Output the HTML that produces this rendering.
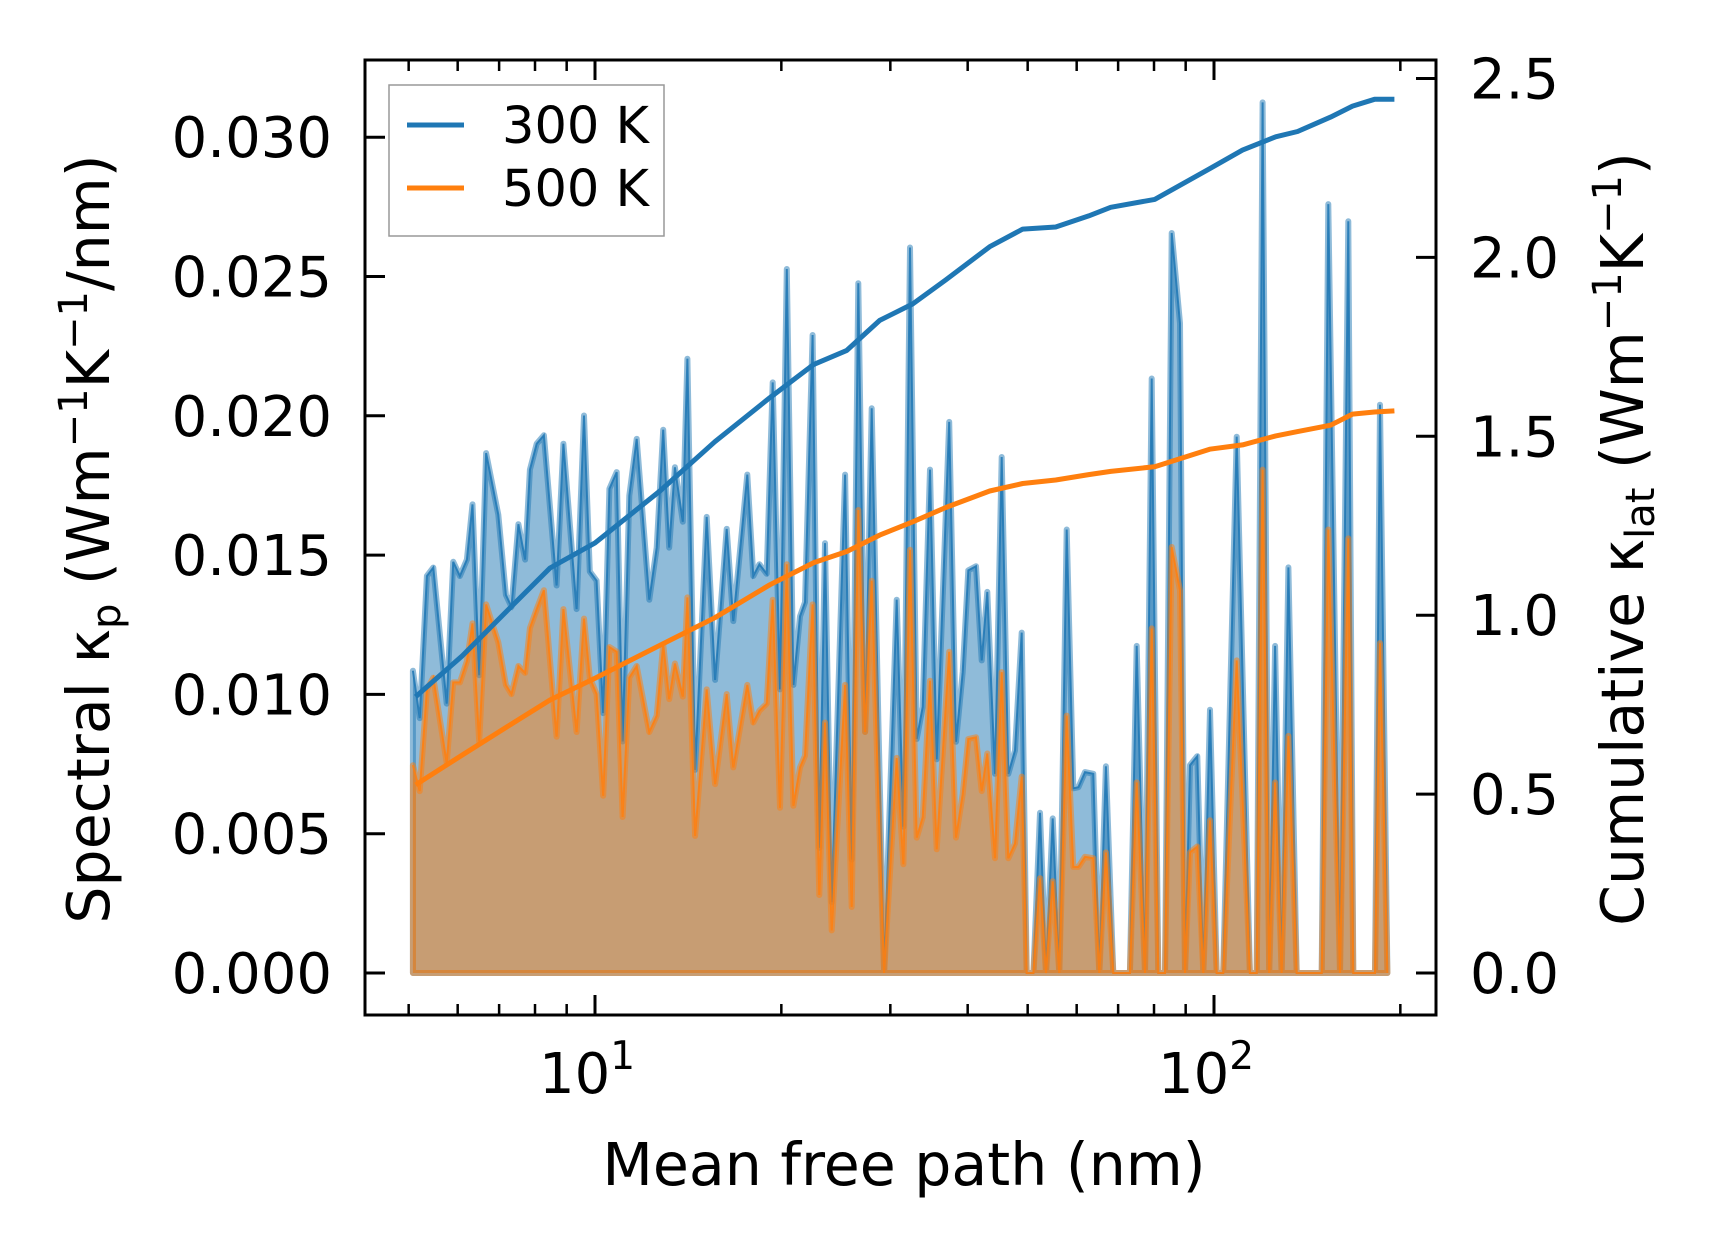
<!DOCTYPE html>
<html><head><meta charset="utf-8"><style>
html,body{margin:0;padding:0;background:#fff;}
svg{display:block;font-family:"DejaVu Sans","Liberation Sans",sans-serif;}
</style></head><body>
<svg id="chart" width="1716" height="1254" viewBox="0 0 1716 1254" xmlns="http://www.w3.org/2000/svg">
<defs><clipPath id="plotclip"><rect x="365" y="60" width="1071" height="955"/></clipPath></defs>
<g id="plot" clip-path="url(#plotclip)"></g>
<g id="axes"></g>
<g>
<rect x="389" y="85" width="275" height="151" fill="#fff" fill-opacity="0.8" stroke="#999" stroke-width="1.5"/>
<line x1="407" y1="125" x2="464" y2="125" stroke="#1f77b4" stroke-width="5"/>
<text x="502" y="143" font-size="51">300 K</text>
<line x1="407" y1="188" x2="464" y2="188" stroke="#ff7f0e" stroke-width="5"/>
<text x="502" y="206" font-size="51">500 K</text>
</g>
<text x="904" y="1185" font-size="58.5" text-anchor="middle">Mean free path (nm)</text>
<text transform="translate(109,539) rotate(-90)" font-size="58.5" text-anchor="middle">Spectral κ<tspan font-size="40" dy="11">p</tspan><tspan dy="-11"> (Wm</tspan><tspan font-size="40" dy="-22">−1</tspan><tspan dy="22">K</tspan><tspan font-size="40" dy="-22">−1</tspan><tspan dy="22">/nm)</tspan></text>
<text transform="translate(1643,539) rotate(-90)" font-size="58.5" text-anchor="middle">Cumulative κ<tspan font-size="40" dy="11">lat</tspan><tspan dy="-11"> (Wm</tspan><tspan font-size="40" dy="-22">−1</tspan><tspan dy="22">K</tspan><tspan font-size="40" dy="-22">−1</tspan><tspan dy="22">)</tspan></text>
</svg>
<script>
const mfp = [5.08,5.21,5.35,5.48,5.76,5.90,6.05,6.21,6.34,6.50,6.67,6.98,7.18,7.33,7.52,7.71,7.85,8.05,8.27,8.67,8.89,9.34,9.60,9.81,10.06,10.31,10.55,10.84,11.08,11.36,11.68,12.24,12.58,12.89,13.18,13.46,13.86,14.10,14.51,15.15,15.63,16.32,16.73,17.62,18.02,18.43,18.94,19.37,19.90,20.41,20.92,21.44,21.84,22.47,23.03,23.53,24.12,25.35,25.98,26.63,27.31,27.99,28.70,29.31,30.72,31.49,
32.28,33.09,33.84,34.77,35.65,37.35,38.30,39.26,40.09,41.26,42.14,43.03,44.28,45.40,46.53,47.70,48.90,49.82,51.07,52.35,53.53,54.88,56.25,57.81,59.26,60.38,61.89,63.83,65.26,66.90,68.77,73.15,75.00,77.36,79.31,81.30,83.34,85.43,88.13,89.79,91.47,93.99,96.11,98.52,101.0,103.5,108.8,114.3,117.2,119.8,122.8,125.5,128.6,131.9,136.0,146.6,149.3,153.0,159.8,164.8,167.9,178.6,182.0,185.4,190.6];
const k300 = [.01085,.00915,.01425,.01455,.00967,.01476,.01425,.01484,.01682,.01069,.01866,.01645,.01357,.01314,.01611,.01484,.01806,.0190,.0193,.01391,.0190,.01306,.02001,.01441,.01408,.00933,.01738,.01798,.00831,.01713,.01917,.0134,.01527,.0195,.01527,.01815,.0162,.02205,.00729,.01637,.01052,.01594,.01263,.01789,.01425,.01467,.01433,.0212,.01018,.02527,.01034,.0128,.01331,.0229,.00449,.01543,.00254,.01789,.00407,.02476,.00865,.02027,.00899,0,.0134,.00525,
.02604,.0084,.00955,.01807,.00767,.01978,.0083,.0108,.01445,.0146,.01122,.01368,.00715,.01852,.00715,.00799,.01222,0,0,.00575,0,.00555,0,.01592,.00663,.00667,.00721,.00715,0,.00742,0,0,.01174,0,.02134,0,0,.02656,.02332,0,.00746,.00778,0,.00945,0,0,.01925,0,0,.03125,0,.01174,0,.01456,0,0,0,.0276,0,.02698,0,0,0,.0204,0];
const k500 = [.00746,.00653,.01018,.0106,.00754,.01043,.01043,.01119,.01255,.00831,.01323,.01187,.01034,.01001,.01102,.01077,.01238,.01306,.01374,.00848,.01306,.00865,.01272,.0106,.01001,.00636,.0117,.01153,.0056,.0106,.01102,.00865,.00924,.01179,.00983,.01111,.00992,.01348,.00492,.01018,.00678,.01001,.00738,.01034,.00899,.00941,.00967,.0134,.00593,.01467,.006,.00738,.0078,.01323,.0028,.00899,.00153,.01034,.00237,.01662,.00865,.01408,.00631,0,.00772,.0039,
.01519,.00486,.00559,.01049,.00444,.01153,.00486,.00642,.0084,.00846,.00653,.00788,.00412,.0108,.00412,.00465,.00705,0,0,.0034,0,.00329,0,.00924,.00381,.00381,.00417,.00412,0,.00433,0,0,.00684,0,.01237,0,0,.01529,.01373,0,.00433,.00454,0,.00548,0,0,.01122,0,0,.01807,0,.00684,0,.00851,0,0,0,.01592,0,.0156,0,0,0,.01184,0];
const cumX = [5.13,6.10,7.18,8.46,10,12.73,15.62,19.16,22.57,25.51,28.84,32.61,36.87,43.42,49.09,55.5,62.74,68.1,80.2,98.4,111.2,125.8,136.5,154.3,167.4,181.7,195.6];
const cum300 = [0.772,0.886,1.009,1.132,1.202,1.347,1.485,1.608,1.701,1.740,1.824,1.870,1.937,2.030,2.079,2.085,2.116,2.140,2.162,2.248,2.300,2.337,2.352,2.392,2.423,2.442,2.442];
const cum500 = [0.526,0.609,0.686,0.763,0.824,0.916,0.993,1.085,1.147,1.178,1.224,1.261,1.301,1.347,1.368,1.378,1.393,1.402,1.415,1.464,1.476,1.501,1.513,1.531,1.562,1.568,1.571];
const leftTicks = [0,0.005,0.010,0.015,0.020,0.025,0.030];
const leftTickLabels = ["0.000","0.005","0.010","0.015","0.020","0.025","0.030"];
const rightTicks = [0,0.5,1.0,1.5,2.0,2.5];
const rightTickLabels = ["0.0","0.5","1.0","1.5","2.0","2.5"];
const xMajor = [10,100];
const xMinor = [5,6,7,8,9,20,30,40,50,60,70,80,90,200];

const NS="http://www.w3.org/2000/svg";
const L=365,R=1436,T=60,B=1015;
function xs(v){return 595+619*(Math.log10(v)-1);}
function yl(v){return 973-v*27860;}
function yr(v){return 973-v*357.8;}
function mk(tag,attrs,parent){const e=document.createElementNS(NS,tag);for(const k in attrs)e.setAttribute(k,attrs[k]);parent.appendChild(e);return e;}
const plot=document.getElementById('plot');
const axes=document.getElementById('axes');

function spectral(vals,color,name){
  let d="M"+xs(mfp[0])+","+yl(0);
  for(let i=0;i<mfp.length;i++) d+=" L"+xs(mfp[i]).toFixed(1)+","+yl(vals[i]).toFixed(1);
  d+=" L"+xs(mfp[mfp.length-1])+","+yl(0)+" Z";
  const f=mk('path',{d:d,fill:color,'fill-opacity':0.5,stroke:color,'stroke-opacity':0.5,'stroke-width':6,'stroke-linejoin':'round'},plot);
  
  
  let d2="M"+xs(mfp[0])+","+yl(vals[0]);
  for(let i=1;i<mfp.length;i++) d2+=" L"+xs(mfp[i]).toFixed(1)+","+yl(vals[i]).toFixed(1);
  const l=mk('path',{d:d2,fill:'none',stroke:color,'stroke-width':2,'stroke-opacity':0.85},plot);
  
  
}
spectral(k300,'#1f77b4','spectral-300k');
spectral(k500,'#ff7f0e','spectral-500k');

function cumLine(vals,color,name){
  let d="";
  for(let i=0;i<cumX.length;i++) d+=(i?" L":"M")+xs(cumX[i]).toFixed(1)+","+yr(vals[i]).toFixed(1);
  const p=mk('path',{d:d,fill:'none',stroke:color,'stroke-width':5,'stroke-linejoin':'round'},plot);
  
  
}
cumLine(cum300,'#1f77b4','cumulative-300k');
cumLine(cum500,'#ff7f0e','cumulative-500k');

const frame=mk('rect',{x:L,y:T,width:R-L,height:B-T,fill:'none',stroke:'#000','stroke-width':3},axes);



leftTicks.forEach((v,i)=>{
  const y=yl(v);
  const t=mk('line',{x1:L,y1:y,x2:L+20,y2:y,stroke:'#000','stroke-width':3},axes);
  
  
  const tx=mk('text',{x:332,y:y+20,'font-size':56,'text-anchor':'end'},axes);
  tx.textContent=leftTickLabels[i];
  
  
});
rightTicks.forEach((v,i)=>{
  const y=yr(v);
  const t=mk('line',{x1:R-20,y1:y,x2:R,y2:y,stroke:'#000','stroke-width':3},axes);
  
  
  const tx=mk('text',{x:1470,y:y+20,'font-size':56},axes);
  tx.textContent=rightTickLabels[i];
  
  
});
xMajor.forEach((v,i)=>{
  const x=xs(v);
  [[B,B-20],[T,T+20]].forEach(p=>{
    const t=mk('line',{x1:x,y1:p[0],x2:x,y2:p[1],stroke:'#000','stroke-width':3},axes);
    
    
  });
  const tx=mk('text',{x:x-8,y:1093,'font-size':56,'text-anchor':'middle'},axes);
  
  
  tx.appendChild(document.createTextNode('10'));
  const sup=mk('tspan',{'font-size':39,dy:-24},tx);
  sup.textContent=String(i+1);
});
xMinor.forEach(v=>{
  const x=xs(v);
  if(x<L||x>R) return;
  [[B,B-11],[T,T+11]].forEach(p=>{
    const t=mk('line',{x1:x,y1:p[0],x2:x,y2:p[1],stroke:'#000','stroke-width':2.5},axes);
    
    
  });
});
</script>
</body></html>
